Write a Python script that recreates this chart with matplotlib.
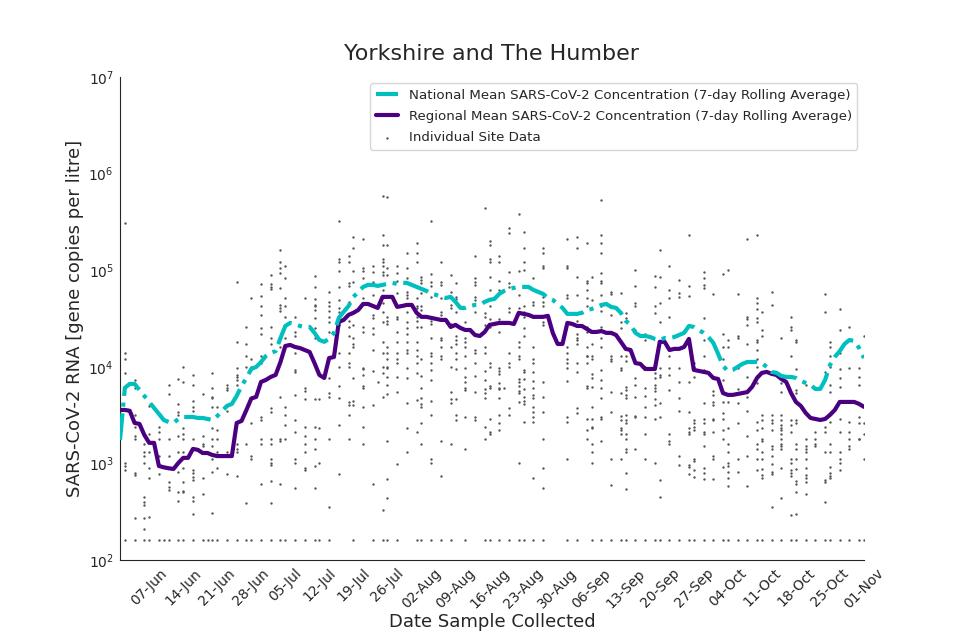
import pandas as pd
import matplotlib
matplotlib.use('Agg')
from matplotlib import pyplot as plt
import matplotlib.dates as mdates
import seaborn as sns

start_date = '2021-06-01'

# 7-day rolling averages, one value per day from 01-Jun to 01-Nov
national_mean = [
    1750, 6040, 6640, 6640, 5750, 4990, 4320, 3750, 3250, 2810,
    2680, 2620, 2880, 3020, 3020, 3020, 2950, 2950, 2880, 2810,
    3090, 3490, 3930, 4120, 4990, 6330, 7650, 9480, 9940, 11200,
    12900, 13900, 14500, 19800, 26400, 28400, 27700, 26400, 25800, 25800,
    22400, 18900, 18100, 19400, 22400, 32000, 37000, 42500, 52800, 59500,
    67000, 70300, 70300, 68600, 70300, 72000, 73700, 72000, 73700, 73700,
    70300, 67000, 63900, 60900, 56700, 55400, 52800, 51500, 52800, 46900,
    40600, 40600, 42500, 43600, 43600, 46900, 49200, 50300, 56700, 60900,
    63900, 65400, 67000, 67000, 67000, 62400, 59500, 56700, 51500, 49200,
    44600, 40600, 35200, 35200, 35200, 36100, 38700, 39600, 41600, 43600,
    44600, 41600, 40600, 36100, 29800, 27100, 22400, 20800, 20800, 20300,
    19400, 18900, 19800, 19800, 20300, 21300, 22400, 26400, 25800, 24000,
    22400, 20300, 17700, 13600, 10200, 9050, 9270, 9940, 10700, 11200,
    11200, 11200, 10900, 9940, 8840, 8640, 8030, 7840, 7840, 7650,
    7130, 6800, 6480, 5890, 5890, 7300, 10400, 12600, 14500, 17200,
    18900, 18500, 15600, 12300,
]

regional_mean = [
    3570, 3570, 3500, 2620, 2560, 1970, 1630, 1630, 940, 910,
    890, 875, 1010, 1140, 1140, 1410, 1380, 1280, 1280, 1220,
    1190, 1190, 1190, 1190, 2620, 2750, 3570, 4690, 4870, 6960,
    7300, 7840, 8220, 11200, 16400, 16800, 16000, 15600, 14900, 14200,
    10900, 8220, 7650, 12300, 12600, 29100, 30500, 34400, 36100, 38700,
    44600, 44600, 42500, 40600, 52800, 52800, 52800, 41600, 42500, 43600,
    43600, 36100, 32800, 32800, 32000, 31300, 30500, 30500, 25800, 27100,
    25200, 24000, 24000, 21300, 20800, 22900, 27100, 27700, 28400, 28400,
    28400, 27700, 36100, 35200, 34400, 32800, 32800, 32800, 33600, 22400,
    17200, 17200, 28400, 27700, 26400, 26400, 24600, 22900, 22900, 23400,
    22400, 22400, 21300, 18100, 15300, 14900, 10900, 10700, 9480, 9480,
    9480, 18100, 18100, 14900, 15300, 15300, 16000, 19400, 9270, 9050,
    8840, 8640, 7650, 7470, 5340, 5110, 5110, 5230, 5340, 5460,
    6200, 7650, 8640, 8840, 8440, 8220, 7470, 6960, 5340, 4320,
    3930, 3330, 2950, 2880, 2810, 2880, 3170, 3570, 4320, 4320,
    4320, 4320, 4120, 3840,
]

# individual site samples: day offset from start_date, and the values on that day
sample_days = [1, 3, 5, 6, 8, 9, 10, 12, 13, 15, 17, 18, 19, 20, 22, 24, 26, 27, 29, 31,
               33, 34, 36, 38, 40, 41, 43, 45, 47, 48, 50, 52, 53, 54, 55, 57, 59, 61, 62, 64,
               66, 68, 69, 71, 73, 75, 76, 78, 79, 80, 82, 83, 85, 87, 92, 94, 96, 97, 99, 101,
               103, 104, 106, 108, 110, 111, 113, 115, 117, 118, 120, 122, 124, 125, 127, 129,
               131, 132, 134, 136, 138, 139, 141, 143, 145, 146, 148, 150, 152, 153]

site_conc = [
    [3.1e5, 1.4e4, 1.2e4, 8.6e3, 1.0e3, 9.4e2, 8.6e2, 160],
    [7.3e3, 6.0e3, 3.2e3, 2.4e3, 1.9e3, 1.8e3, 7.9e2, 7.6e2, 2.7e2, 160],
    [1.6e3, 1.3e3, 1.2e3, 1.0e3, 4.5e2, 4.0e2, 3.7e2, 2.7e2, 2.1e2, 160],
    [3.9e3, 2.0e3, 1.3e3, 9.0e2, 7.1e2, 2.8e2, 160],
    [2.4e3, 2.1e3, 1.8e3, 1.2e3, 7.8e2, 160],
    [160],
    [6.5e3, 5.2e3, 1.8e3, 1.2e3, 6.4e2, 5.7e2, 5.3e2, 160],
    [7.5e3, 4.1e3, 3.4e3, 3.2e3, 1.9e3, 1.3e3, 8.2e2, 5.1e2, 4.1e2, 160],
    [1.0e4, 6.9e3, 2.3e3, 2.0e3, 1.8e3, 1.3e3, 9.0e2, 6.4e2, 5.2e2, 5.0e2, 160],
    [8.2e3, 6.5e3, 4.4e3, 3.8e3, 3.5e3, 1.8e3, 8.6e2, 7.9e2, 7.2e2, 6.7e2, 4.5e2, 4.1e2, 3.0e2, 160],
    [5.2e3, 1.9e3, 1.6e3, 1.5e3, 7.1e2, 4.8e2, 160],
    [160],
    [8.6e3, 6.0e3, 4.9e3, 4.8e3, 3.8e3, 2.3e3, 1.8e3, 1.5e3, 1.1e3, 8.2e2, 3.1e2, 160],
    [3.8e3, 2.2e3, 1.8e3, 1.3e3, 9.0e2, 160],
    [6.5e3, 6.0e3, 5.8e3, 3.5e3, 1.3e3, 7.8e2, 160],
    [7.5e4, 1.8e4, 9.7e3, 8.2e3, 7.8e3, 7.3e3, 6.5e3, 1.6e3, 1.4e3, 1.3e3, 7.4e2, 160],
    [2.6e4, 1.7e4, 1.3e4, 1.0e4, 1.6e3, 3.9e2, 160],
    [5.2e4, 1.2e4, 9.9e3, 2.6e3, 1.2e3, 1.1e3, 160],
    [7.2e4, 5.4e4, 4.2e4, 3.4e4, 2.5e4, 2.2e4, 1.3e4, 1.1e4, 3.0e3, 2.8e3, 1.8e3, 1.6e3, 6.1e2, 160],
    [8.9e4, 7.2e4, 6.7e4, 6.4e4, 2.6e4, 2.0e4, 1.7e4, 3.7e3, 3.4e3, 1.8e3, 1.6e3, 1.1e3, 1.0e3,
     9.6e2, 6.6e2, 3.9e2, 160],
    [1.6e5, 1.2e5, 1.05e5, 9.4e4, 6.5e4, 4.4e4, 4.1e4, 3.8e4, 2.0e4, 1.6e4, 4.9e3, 1.8e3, 1.7e3,
     6.1e2, 160],
    [1.1e5, 8.3e4, 5.2e4, 4.3e4, 3.3e4, 2.0e4, 3.8e3, 3.2e3, 2.5e3, 1.8e3, 160],
    [3.3e4, 2.3e4, 2.1e4, 1.4e4, 9.2e3, 8.8e3, 5.1e3, 2.8e3, 2.1e3, 1.1e3, 1.0e3, 5.6e2, 160],
    [5.2e4, 6.0e3, 5.6e3, 4.6e3, 2.4e3, 1.9e3, 1.6e3, 1.3e3, 9.0e2, 8.6e2, 160],
    [8.7e4, 6.7e4, 5.0e4, 4.4e4, 4.2e4, 3.9e4, 3.2e4, 2.5e4, 2.0e4, 4.6e3, 2.4e3, 1.8e3, 1.4e3,
     9.4e2, 5.6e2, 160],
    [4.6e3, 2.3e3, 1.0e3, 160],
    [5.9e4, 4.7e4, 4.2e4, 3.8e4, 3.3e4, 2.9e4, 2.3e4, 1.2e4, 7.7e3, 5.4e3, 4.9e3, 1.8e3, 3.5e2, 160],
    [3.2e5, 1.3e5, 1.2e5, 9.8e4, 6.7e4, 4.9e4, 4.1e4, 3.7e4, 2.7e4, 1.4e4, 1.0e4, 6.3e3, 4.8e3,
     2.5e3, 7.8e2],
    [1.4e5, 1.2e5, 7.4e4, 6.9e4, 4.7e4, 3.0e4, 2.6e4, 2.1e4, 1.4e4, 1.1e4, 1.0e4, 4.3e3, 4.0e3,
     3.2e3, 1.8e3],
    [2.2e5, 1.7e5, 9.8e4, 7.5e4, 2.7e4, 2.0e4, 1.7e4, 1.6e4, 7.7e3, 4.4e3, 4.0e3, 160],
    [2.1e5, 1.05e5, 9.8e4, 8.3e4, 5.2e4, 2.6e4, 2.3e4, 9.7e3, 9.5e3, 8.2e3, 6.3e3, 6.0e3, 3.8e3,
     2.4e3, 1.6e3],
    [1.1e5, 9.5e4, 7.5e4, 5.5e4, 3.4e4, 3.2e4, 2.5e4, 2.2e4, 1.5e4, 9.0e3, 4.0e3, 6.1e2, 160],
    [6.9e3],
    [5.9e5, 2.3e5, 1.8e5, 1.3e5, 1.2e5, 1.1e5, 9.5e4, 8.9e4, 6.2e4, 4.6e4, 3.7e4, 2.9e4, 1.8e4,
     1.4e4, 1.0e4, 8.6e3, 4.9e3, 3.3e2, 160],
    [5.7e5, 1.8e5, 1.05e5, 8.9e4, 3.3e4, 3.0e4, 2.8e4, 1.6e4, 1.4e4, 1.2e4, 9.9e3, 9.7e3, 7.8e3,
     6.5e3, 5.2e3, 1.7e3, 6.9e2, 4.4e2, 160],
    [1.1e5, 9.4e4, 7.7e4, 5.8e4, 3.3e4, 3.1e4, 2.3e4, 1.8e4, 1.4e4, 1.2e4, 1.1e4, 7.8e3, 5.5e3,
     9.8e2, 160],
    [1.5e5, 1.05e5, 8.3e4, 5.9e4, 5.5e4, 5.2e4, 3.7e4, 2.9e4, 2.5e4, 2.2e4, 1.8e4, 1.5e4, 1.4e4,
     9.7e3, 7.7e3, 4.2e3, 2.3e3, 1.3e3],
    [1.9e5, 1.5e5, 1.2e5, 5.2e4, 4.3e4, 4.1e4, 3.3e4, 3.0e4, 2.6e4, 1.8e4, 1.5e4, 1.3e4, 1.1e4,
     8.6e3, 4.5e3, 2.1e3, 160],
    [8.5e4, 7.9e4, 7.4e4, 5.8e4, 4.3e4, 3.9e4, 2.6e4, 1.2e4, 8.0e3, 6.0e3, 4.8e3, 4.1e3, 3.8e3,
     2.6e3, 1.6e3, 160],
    [3.2e5, 9.1e4, 7.5e4, 6.9e4, 5.3e4, 3.0e4, 2.8e4, 2.0e4, 1.4e4, 1.3e4, 1.1e4, 9.2e3, 7.3e3,
     4.4e3, 3.2e3, 1.1e3, 1.0e3, 160],
    [1.2e5, 7.5e4, 7.0e4, 5.2e4, 3.7e4, 3.4e4, 2.0e4, 1.9e4, 1.6e4, 1.3e4, 1.2e4, 1.7e3, 7.4e2, 160],
    [8.9e4, 5.9e4, 4.4e4, 4.1e4, 2.8e4, 1.6e4, 1.0e4, 5.5e3, 4.6e3, 4.2e3, 1.6e3, 160],
    [7.4e4, 5.3e4, 5.0e4, 3.7e4, 2.1e4, 1.9e4, 1.7e4, 1.4e4, 1.2e4, 9.5e3, 4.6e3, 3.2e3, 2.8e3],
    [2.9e4, 2.0e4, 1.8e4, 1.6e4, 1.3e4, 9.7e3, 7.8e3, 6.9e3, 6.0e3, 5.8e3, 3.0e3, 1.4e3, 160],
    [1.4e5, 8.3e4, 7.5e4, 7.0e4, 5.3e4, 4.9e4, 3.7e4, 1.5e4, 1.4e4, 1.1e4, 8.0e3, 5.5e3, 3.0e3, 2.8e3],
    [4.4e5, 3.6e4, 3.3e4, 2.7e4, 1.6e4, 1.4e4, 9.0e3, 7.3e3, 5.9e3, 5.4e3, 4.8e3, 2.4e3, 1.8e3, 160],
    [2.0e5, 1.8e5, 1.3e5, 1.2e5, 8.5e4, 6.2e4, 4.2e4, 3.1e4, 2.6e4, 1.1e4, 1.0e4, 6.3e3, 6.0e3,
     2.9e3, 2.1e3, 2.0e3, 160],
    [1.4e5, 1.2e5, 7.7e4, 6.2e4, 3.1e4, 2.9e4, 2.3e4, 9.7e3, 9.0e3, 8.4e3, 6.8e3, 6.0e3, 5.9e3,
     4.8e3, 3.2e3, 2.6e3, 2.2e3, 160],
    [6.0e3],
    [2.7e5, 2.4e5, 9.5e4, 7.4e4, 6.7e4, 4.1e4, 3.7e4, 2.9e4, 1.4e4, 1.1e4, 1.0e4, 3.7e3, 3.2e3, 160],
    [3.8e5, 9.8e4, 5.5e4, 4.1e4, 3.7e4, 1.8e4, 1.6e4, 1.3e4, 1.2e4, 7.5e3, 6.9e3, 6.3e3, 5.6e3,
     5.4e3, 4.3e3, 1.0e3, 160],
    [2.5e5, 1.7e5, 1.2e5, 1.0e5, 4.2e4, 3.7e4, 3.3e4, 2.5e4, 2.1e4, 9.2e3, 8.8e3, 7.5e3, 5.9e3,
     4.9e3, 4.4e3, 4.1e3, 2.7e3, 160],
    [8.3e4, 4.7e4, 4.4e4, 3.3e4, 1.6e4, 1.2e4, 1.1e4, 8.8e3, 7.1e3, 6.0e3, 5.1e3, 4.8e3, 3.8e3,
     3.4e3, 3.0e3, 2.7e3, 7.1e2, 160],
    [1.7e5, 1.5e5, 1.1e5, 1.05e5, 5.3e4, 4.7e4, 4.3e4, 2.9e4, 2.7e4, 6.9e3, 4.9e3, 3.4e3, 1.8e3,
     9.0e2, 5.6e2, 160],
    [2.1e5, 1.1e5, 1.05e5, 5.5e4, 5.2e4, 1.6e4, 1.4e4, 1.2e4, 1.1e4, 9.7e3, 7.1e3, 3.0e3, 2.7e3,
     1.1e3, 160],
    [2.2e5, 1.7e5, 8.5e4, 5.5e4, 3.0e4, 2.2e4, 2.0e4, 1.9e4, 1.7e4, 1.1e4, 8.8e3, 3.7e3, 3.3e3, 160],
    [1.9e5, 7.7e4, 7.4e4, 6.2e4, 5.2e4, 4.3e4, 2.6e4, 2.3e4, 1.6e4, 1.3e4, 1.3e4, 1.1e4, 6.3e3,
     6.0e3, 2.9e3, 2.2e3, 1.8e3],
    [8.5e4, 4.9e4, 1.7e4, 1.3e4, 1.2e4, 8.4e3, 7.7e3, 6.2e3, 3.8e3, 2.9e3, 2.4e3, 2.3e3, 1.6e3,
     1.3e3, 1.0e3, 160],
    [5.3e5, 2.3e5, 1.9e5, 1.5e5, 9.4e4, 7.7e4, 7.4e4, 5.5e4, 4.2e4, 3.8e4, 2.6e4, 2.0e4, 1.6e4,
     9.2e3, 7.3e3, 6.0e3, 4.8e3, 3.0e3, 2.9e3, 1.7e3, 160],
    [5.9e4, 5.6e4, 3.4e4, 1.3e4, 1.2e4, 1.15e4, 5.5e3, 3.4e3, 1.1e3, 6.0e2, 160],
    [5.8e4, 2.9e4, 2.5e4, 1.3e4, 9.7e3, 9.2e3, 5.4e3, 3.1e3, 2.8e3, 2.3e3, 2.2e3, 2.0e3, 1.1e3, 160],
    [3.6e4, 3.2e4, 1.3e4, 1.15e4, 6.2e3, 5.8e3, 5.1e3, 4.8e3, 3.2e3, 2.8e3, 2.6e3, 2.0e3, 1.8e3,
     1.4e3, 1.3e3, 8.0e2, 5.4e2, 160],
    [1.0e5, 6.9e4, 4.6e4, 4.3e4, 2.4e4, 7.7e3, 6.5e3, 4.9e3, 3.1e3, 3.0e3, 1.4e3, 160],
    [2.2e4, 1.9e4, 9.9e3, 6.0e3, 5.0e3, 3.8e3, 3.0e3, 2.0e3, 1.1e3, 160],
    [8.7e4, 6.7e4, 4.2e4, 3.6e4, 8.6e3, 7.7e3, 6.5e3, 6.0e3, 5.6e3, 4.6e3, 4.0e3, 2.9e3, 1.0e3, 160],
    [1.6e5, 8.5e4, 4.6e4, 2.9e4, 9.7e3, 8.2e3, 7.8e3, 4.2e3, 3.0e3, 6.7e2, 4.5e2, 160],
    [1.1e5, 6.2e4, 5.2e4, 3.3e4, 1.3e4, 9.7e3, 8.2e3, 5.8e3, 2.0e3, 1.7e3, 1.6e3, 160],
    [7.9e4, 5.8e4, 5.3e4, 9.7e3, 6.9e3, 4.8e3, 3.5e3, 1.2e3, 9.6e2, 160],
    [2.3e5, 6.9e4, 5.4e4, 6.9e3, 3.4e3, 2.3e3, 2.1e3, 2.0e3, 9.6e2, 9.2e2, 7.8e2, 160],
    [1.1e4, 9.9e3, 7.8e3, 2.8e3, 2.6e3, 2.4e3, 2.2e3, 1.1e3, 1.06e3, 8.6e2, 7.2e2, 160],
    [9.5e4, 8.3e4, 7.0e4, 6.5e4, 3.2e4, 1.9e4, 1.3e4, 9.2e3, 4.2e3, 2.9e3, 2.6e3, 2.1e3, 2.0e3,
     1.5e3, 9.0e2, 7.9e2, 6.9e2, 160],
    [5.6e4, 5.6e3, 5.1e3, 4.3e3, 4.0e3, 2.9e3, 2.8e3, 2.1e3, 1.2e3, 1.1e3, 6.9e2, 160],
    [9.1e4, 2.2e4, 1.6e4, 1.2e4, 7.3e3, 4.3e3, 3.3e3, 2.9e3, 2.2e3, 1.8e3, 9.2e2, 160],
    [1.0e5, 1.9e4, 1.6e4, 4.3e3, 2.3e3, 1.6e3, 1.3e3, 1.0e3, 9.4e2, 8.2e2, 7.1e2, 5.9e2, 160],
    [5.6e4, 2.1e4, 2.0e4, 1.0e4, 9.7e3, 5.9e3, 4.2e3, 2.6e3, 1.1e3, 8.2e2, 160],
    [2.1e5, 3.3e4, 3.1e4, 2.7e4, 1.7e4, 7.8e3, 4.9e3, 3.5e3, 1.9e3, 1.2e3, 5.9e2, 160],
    [2.3e5, 5.2e4, 4.6e4, 4.0e4, 3.2e4, 2.9e4, 1.9e4, 1.8e4, 1.5e4, 1.2e4, 9.9e3, 8.0e3, 6.8e3,
     2.7e3, 2.2e3, 1.6e3, 1.4e3, 1.1e3, 8.6e2, 160],
    [3.7e4, 2.4e4, 2.1e4, 3.2e3, 2.8e3, 2.3e3, 1.8e3, 1.7e3, 1.3e3, 1.1e3, 8.8e2, 7.6e2, 7.1e2, 160],
    [5.9e4, 4.4e4, 3.2e3, 2.8e3, 2.6e3, 2.2e3, 1.5e3, 1.4e3, 1.2e3, 9.8e2, 8.2e2, 7.8e2, 3.5e2, 160],
    [2.0e4, 6.8e3, 5.5e3, 3.2e3, 2.8e3, 2.5e3, 2.3e3, 2.2e3, 2.0e3, 1.8e3, 1.6e3, 1.5e3, 1.4e3,
     9.0e2, 4.4e2, 160],
    [3.3e4, 2.6e4, 2.4e4, 1.3e4, 2.8e3, 2.5e3, 2.1e3, 1.1e3, 1.0e3, 8.6e2, 7.9e2, 7.4e2, 2.9e2, 160],
    [1.9e4, 1.8e4, 9.5e3, 5.8e3, 5.4e3, 2.8e3, 2.6e3, 1.6e3, 1.4e3, 1.1e3, 8.8e2, 6.6e2, 6.1e2,
     5.1e2, 3.0e2, 160],
    [6.5e3, 1.8e3, 1.5e3, 1.4e3, 1.3e3, 1.1e3, 9.0e2, 7.6e2, 7.1e2, 6.4e2, 4.8e2, 160],
    [2.1e3, 1.8e3, 1.6e3, 1.5e3, 160],
    [5.6e4, 3.7e4, 8.8e3, 2.4e3, 2.1e3, 1.3e3, 6.7e2, 6.4e2, 4.0e2, 160],
    [1.8e4, 1.6e4, 1.3e4, 9.9e3, 6.5e3, 5.5e3, 2.7e3, 1.6e3, 1.3e3, 9.2e2, 7.9e2, 7.4e2, 7.1e2, 160],
    [4.0e4, 2.4e4, 1.4e4, 9.5e3, 7.7e3, 6.2e3, 2.9e3, 2.1e3, 1.3e3, 1.1e3, 1.0e3, 8.6e2, 160],
    [2.6e4, 9.7e3, 2.7e3, 2.1e3, 1.8e3, 1.5e3, 1.4e3, 160],
    [9.7e3, 7.8e3, 6.5e3, 3.0e3, 2.6e3, 1.8e3, 1.8e3, 160],
    [2.1e4, 2.6e3, 2.0e3, 1.1e3, 160],
]

dates = pd.date_range(start_date, periods=len(regional_mean), freq='D')

site_x = []
site_y = []
for day, vals in zip(sample_days, site_conc):
    site_x += [dates[day]] * len(vals)
    site_y += vals

sns.set_style('white')

fig, ax = plt.subplots(figsize=(9.6, 6.4), dpi=100)
fig.subplots_adjust(left=0.125, right=0.9, top=0.88, bottom=0.125)

ax.scatter(site_x, site_y, s=3, marker='o', color='#555555', linewidths=0,
           label='Individual Site Data', zorder=1)
ax.plot(dates, national_mean, color='c', ls='-.', lw=3, zorder=3,
        label='National Mean SARS-CoV-2 Concentration (7-day Rolling Average)')
ax.plot(dates, regional_mean, color='indigo', lw=3, zorder=2,
        label='Regional Mean SARS-CoV-2 Concentration (7-day Rolling Average)')

ax.set_yscale('log')
ax.set_ylim(1e2, 1e7)
ax.set_xlim(dates[0], dates[-1])

ax.xaxis.set_major_locator(mdates.WeekdayLocator(byweekday=mdates.MO))
ax.xaxis.set_major_formatter(mdates.DateFormatter('%d-%b'))
ax.tick_params(axis='both', pad=1)
plt.setp(ax.get_xticklabels(), rotation=45, fontsize=10)
plt.setp(ax.get_yticklabels(), fontsize=10)

ax.set_title('Yorkshire and The Humber', fontsize=16, pad=12)
ax.set_xlabel('Date Sample Collected', fontsize=13, labelpad=1)
ax.set_ylabel('SARS-CoV-2 RNA [gene copies per litre]', fontsize=13, labelpad=3)

handles, labels = ax.get_legend_handles_labels()
order = [1, 2, 0]
ax.legend([handles[i] for i in order], [labels[i] for i in order],
          loc='upper right', fontsize=9.6, handlelength=1.7, labelspacing=0.62)
sns.despine(ax=ax)

plt.savefig('out.png', dpi=100)
plt.close()
